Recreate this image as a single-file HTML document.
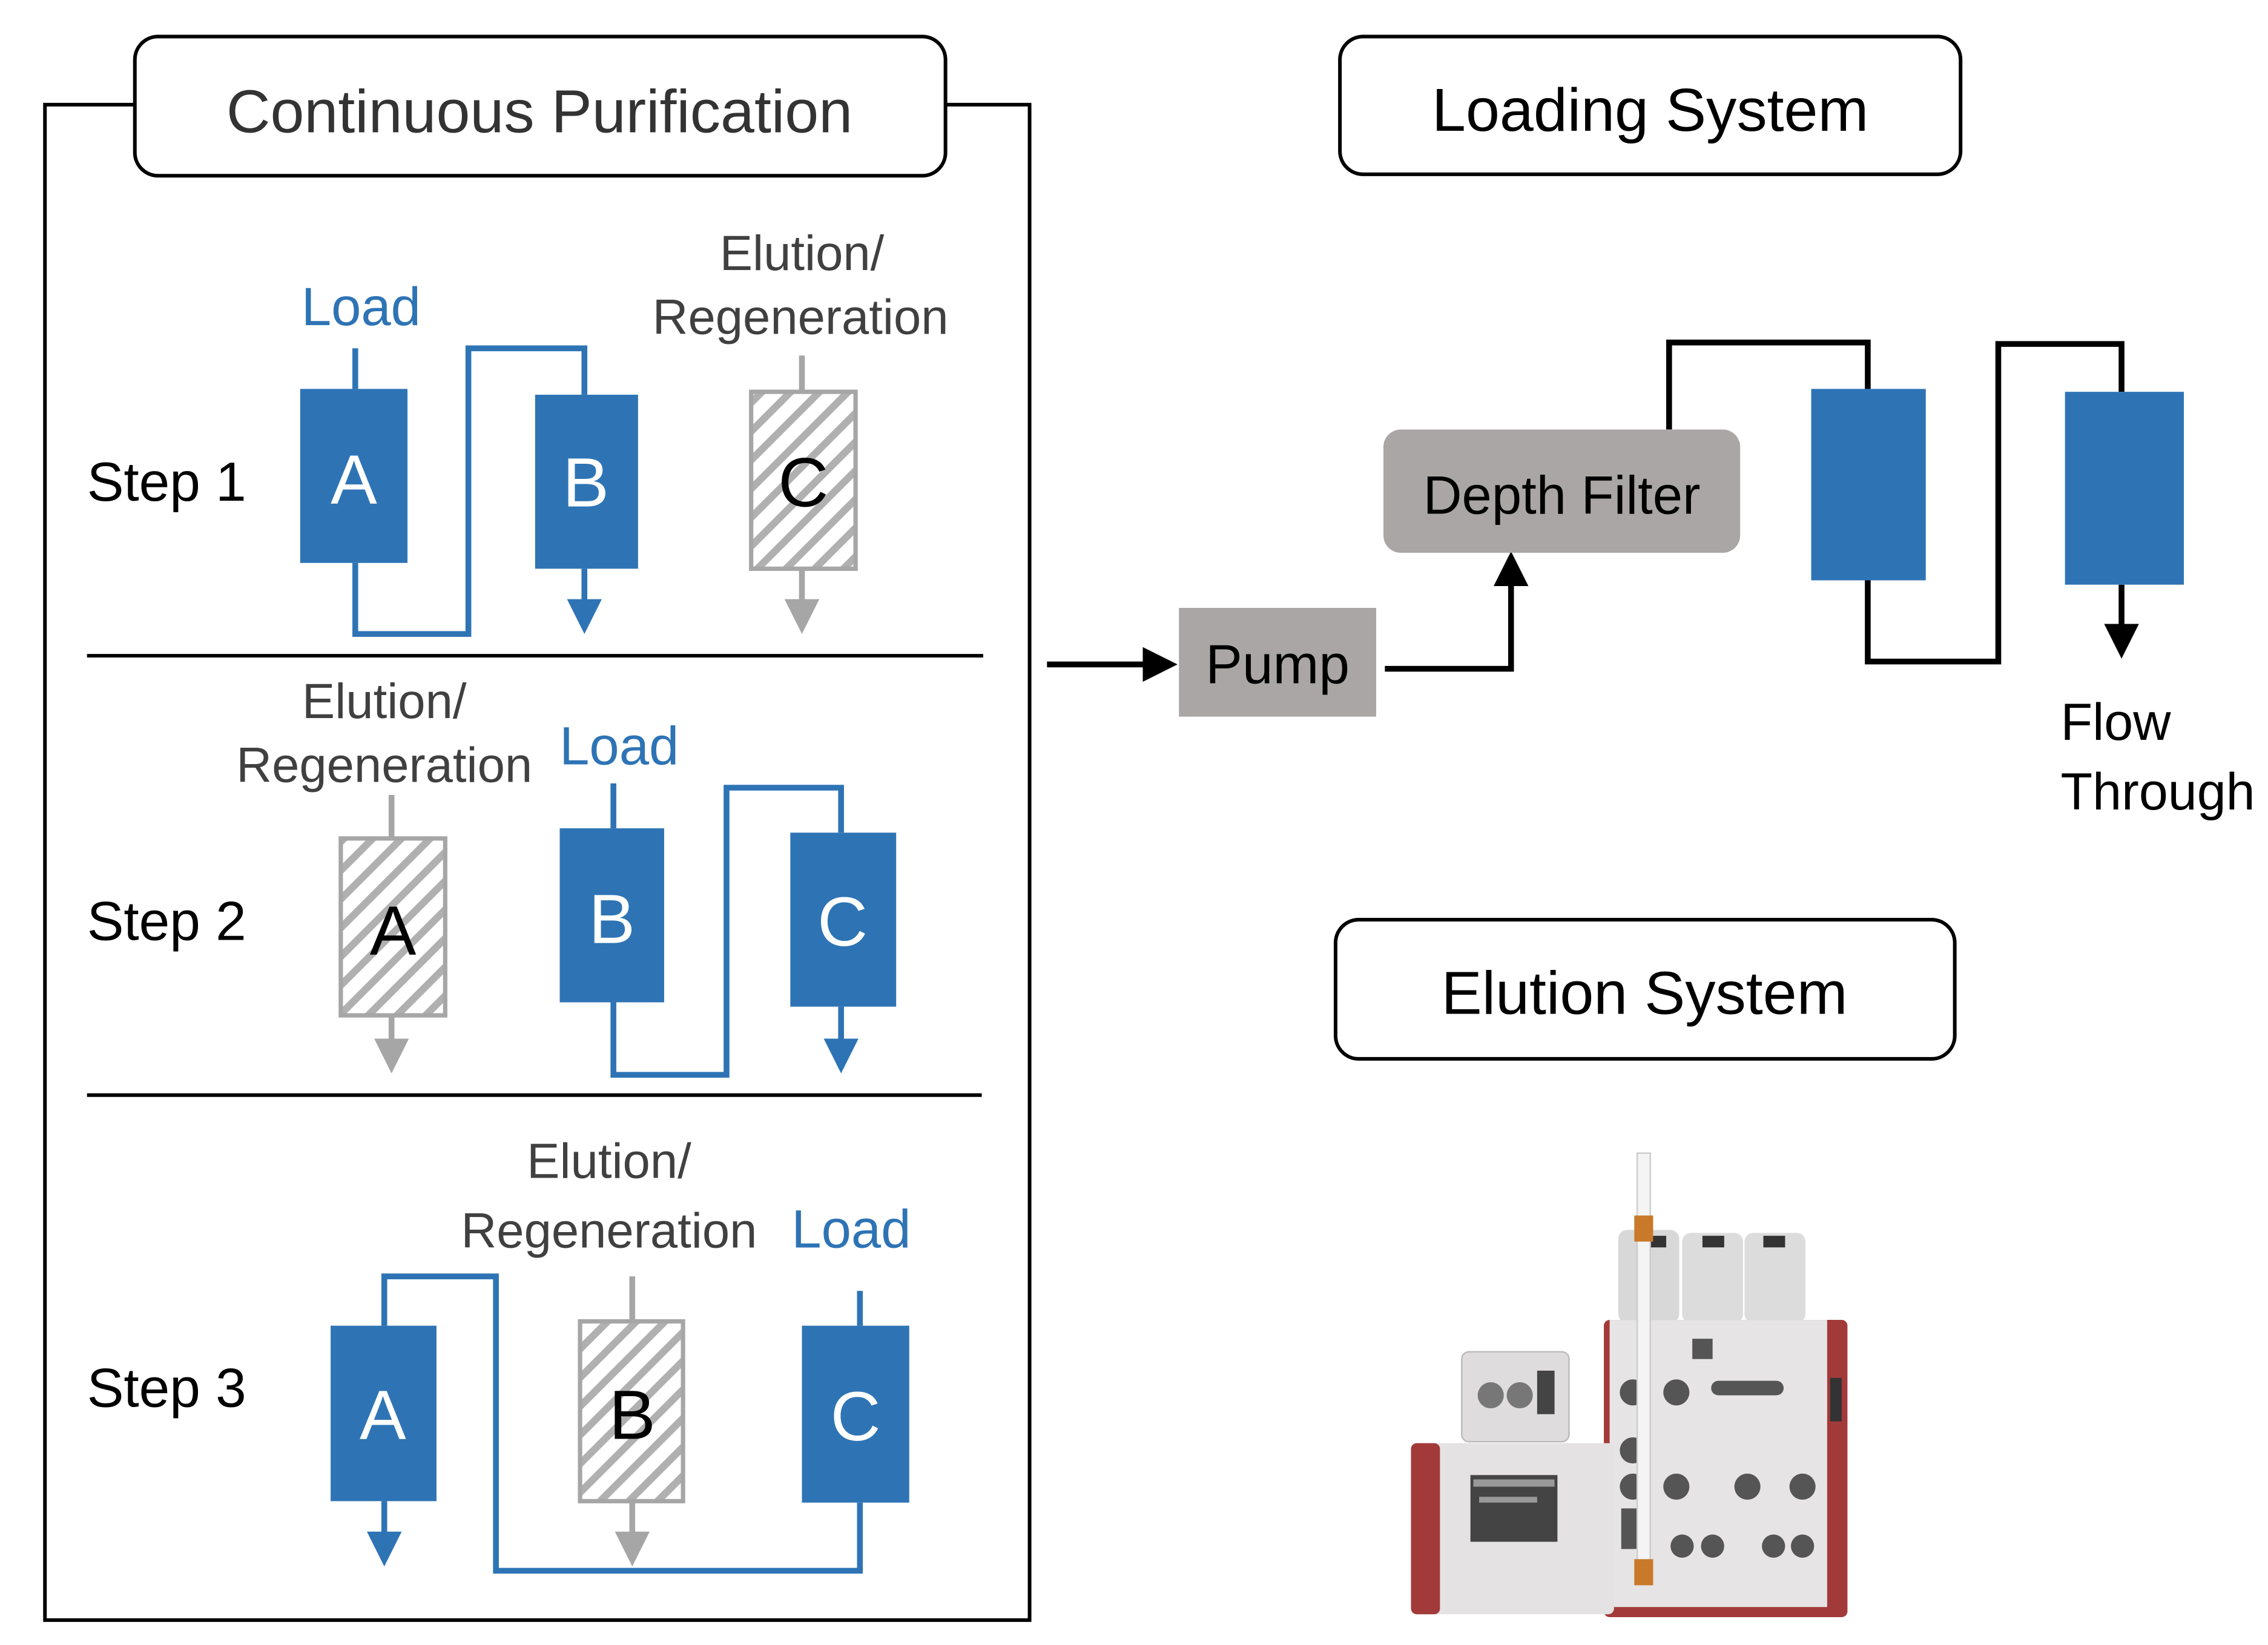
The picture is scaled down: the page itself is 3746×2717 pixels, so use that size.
<!DOCTYPE html>
<html><head><meta charset="utf-8"><style>
html,body{margin:0;padding:0;background:#fff}
svg{display:block}
text{font-family:"Liberation Sans",sans-serif}
</style></head><body>
<svg width="3746" height="2717" viewBox="0 0 1564 1134" xmlns="http://www.w3.org/2000/svg">
<defs>
<pattern id="h" width="14" height="14" patternUnits="userSpaceOnUse" patternTransform="rotate(45)">
<rect width="14" height="14" fill="#fff"/><rect width="5" height="14" fill="#b0b0b0"/>
</pattern>
<marker id="ab" markerWidth="6" markerHeight="6" refX="3" refY="3" orient="auto"><path d="M0,0L6,3L0,6z" fill="#2e74b5"/></marker>
<marker id="ag" markerWidth="6" markerHeight="6" refX="3" refY="3" orient="auto"><path d="M0,0L6,3L0,6z" fill="#a6a6a6"/></marker>
<marker id="ak" markerWidth="6" markerHeight="6" refX="3" refY="3" orient="auto"><path d="M0,0L6,3L0,6z" fill="#000"/></marker>
</defs>
<rect width="1564" height="1134" fill="#fff"/>
<path d="M93,72 H31 V1117 H710 V72 H652" fill="none" stroke="#000" stroke-width="2.5"/>
<rect x="93" y="25" width="559" height="96" rx="16" fill="#fff" stroke="#000" stroke-width="2.5"/>
<text x="372" y="91" font-size="42" text-anchor="middle" fill="#333">Continuous  Purification</text>
<line x1="60" y1="452" x2="678" y2="452" stroke="#000" stroke-width="2.5"/>
<line x1="60" y1="755" x2="677" y2="755" stroke="#000" stroke-width="2.5"/>
<g font-size="38" fill="#000">
<text x="60" y="345">Step  1</text>
<text x="60" y="648">Step  2</text>
<text x="60" y="970">Step  3</text>
</g>
<g font-size="34" fill="#404040" text-anchor="middle">
<text x="553" y="186">Elution/</text><text x="552" y="230">Regeneration</text>
<text x="265" y="495">Elution/</text><text x="265" y="539">Regeneration</text>
<text x="420" y="812">Elution/</text><text x="420" y="860">Regeneration</text>
</g>
<g font-size="37" fill="#2e74b5" text-anchor="middle">
<text x="249" y="224">Load</text><text x="427" y="527">Load</text><text x="587" y="860">Load</text>
</g>
<g fill="none" stroke="#2e74b5" stroke-width="4">
<path d="M245,240V268"/><path d="M245,388V437H323V240H403V272"/><path d="M403,392V425" marker-end="url(#ab)"/>
<path d="M423,540V571"/><path d="M423,691V741H501V543H580V574"/><path d="M580,694V728" marker-end="url(#ab)"/>
<path d="M265,914V880H342V1083H593V1036"/><path d="M593,890V914"/><path d="M265,1035V1068" marker-end="url(#ab)"/>
</g>
<g fill="none" stroke="#a6a6a6" stroke-width="4">
<path d="M553,245V270"/><path d="M553,392V425" marker-end="url(#ag)"/>
<path d="M270,548V578"/><path d="M270,700V728" marker-end="url(#ag)"/>
<path d="M436,880V911"/><path d="M436,1035V1068" marker-end="url(#ag)"/>
</g>
<g fill="#2e74b5">
<rect x="207" y="268" width="74" height="120"/><rect x="369" y="272" width="71" height="120"/>
<rect x="386" y="571" width="72" height="120"/><rect x="545" y="574" width="73" height="120"/>
<rect x="228" y="914" width="73" height="121"/><rect x="553" y="914" width="74" height="122"/>
</g>
<g fill="url(#h)" stroke="#a6a6a6" stroke-width="3">
<rect x="518" y="270" width="72" height="122"/><rect x="235" y="578" width="72" height="122"/><rect x="400" y="911" width="71" height="124"/>
</g>
<g font-size="48" text-anchor="middle">
<text x="244" y="347" fill="#fff">A</text><text x="404" y="349" fill="#fff">B</text><text x="554" y="349" fill="#000">C</text>
<text x="271" y="658" fill="#000">A</text><text x="422" y="650" fill="#fff">B</text><text x="581" y="652" fill="#fff">C</text>
<text x="264" y="992" fill="#fff">A</text><text x="436" y="992" fill="#000">B</text><text x="590" y="993" fill="#fff">C</text>
</g>
<rect x="924" y="25" width="428" height="95" rx="16" fill="#fff" stroke="#000" stroke-width="2.5"/>
<text x="1138" y="90" font-size="42" text-anchor="middle">Loading  System</text>
<rect x="921" y="634" width="427" height="96" rx="16" fill="#fff" stroke="#000" stroke-width="2.5"/>
<text x="1134" y="699" font-size="42" text-anchor="middle">Elution  System</text>
<g fill="none" stroke="#000" stroke-width="4">
<path d="M722,458H800" marker-end="url(#ak)"/>
<path d="M955,461H1042V392" marker-end="url(#ak)"/>
<path d="M1151,296V236H1288V268"/>
<path d="M1288,400V456H1378V237H1463V270"/>
<path d="M1463,403V442" marker-end="url(#ak)"/>
</g>
<rect x="813" y="419" width="136" height="75" fill="#aaa6a6"/>
<text x="881" y="471" font-size="38" text-anchor="middle">Pump</text>
<rect x="954" y="296" width="246" height="85" rx="12" fill="#aaa6a6"/>
<text x="1077" y="354" font-size="37" text-anchor="middle">Depth Filter</text>
<rect x="1249" y="268" width="79" height="132" fill="#2e74b5"/>
<rect x="1424" y="270" width="82" height="133" fill="#2e74b5"/>
<text x="1421" y="510" font-size="36">Flow</text>
<text x="1421" y="558" font-size="36">Through</text>
<g>
<rect x="1116" y="848" width="42" height="64" rx="6" fill="#d8d8d8"/>
<rect x="1160" y="850" width="42" height="62" rx="6" fill="#dcdcdc"/>
<rect x="1203" y="850" width="42" height="62" rx="6" fill="#dcdcdc"/>
<rect x="1174" y="852" width="15" height="8" fill="#333"/><rect x="1216" y="852" width="15" height="8" fill="#333"/><rect x="1134" y="852" width="15" height="8" fill="#333"/>
<rect x="1106" y="910" width="168" height="205" rx="4" fill="#a33a3a"/>
<rect x="1110" y="910" width="150" height="198" fill="#e6e4e4"/>
<rect x="973" y="995" width="140" height="118" rx="4" fill="#e4e2e2"/>
<rect x="973" y="995" width="20" height="118" rx="4" fill="#a33a3a"/>
<rect x="1014" y="1017" width="60" height="46" fill="#444"/>
<rect x="1016" y="1020" width="56" height="5" fill="#999"/><rect x="1020" y="1032" width="40" height="4" fill="#999"/>
<rect x="1008" y="932" width="74" height="62" rx="5" fill="#dedcdc" stroke="#bbb"/>
<circle cx="1028" cy="962" r="9" fill="#777"/><circle cx="1048" cy="962" r="9" fill="#777"/><rect x="1060" y="945" width="12" height="30" fill="#444"/>
<g fill="#555">
<circle cx="1126" cy="960" r="9"/><circle cx="1156" cy="960" r="9"/><circle cx="1126" cy="1000" r="9"/><circle cx="1126" cy="1025" r="9"/><circle cx="1156" cy="1025" r="9"/><circle cx="1205" cy="1025" r="9"/><circle cx="1243" cy="1025" r="9"/>
<circle cx="1160" cy="1066" r="8"/><circle cx="1181" cy="1066" r="8"/><circle cx="1223" cy="1066" r="8"/><circle cx="1243" cy="1066" r="8"/>
<rect x="1180" y="952" width="50" height="10" rx="5"/><rect x="1118" y="1040" width="14" height="28"/><rect x="1167" y="923" width="14" height="14"/>
</g>
<rect x="1129" y="795" width="9" height="290" fill="#f4f4f4" stroke="#ccc"/>
<rect x="1127" y="838" width="13" height="18" fill="#c87a2a"/><rect x="1127" y="1075" width="13" height="18" fill="#c87a2a"/>
<rect x="1262" y="950" width="8" height="30" fill="#333"/>
</g>
</svg>
</body></html>
